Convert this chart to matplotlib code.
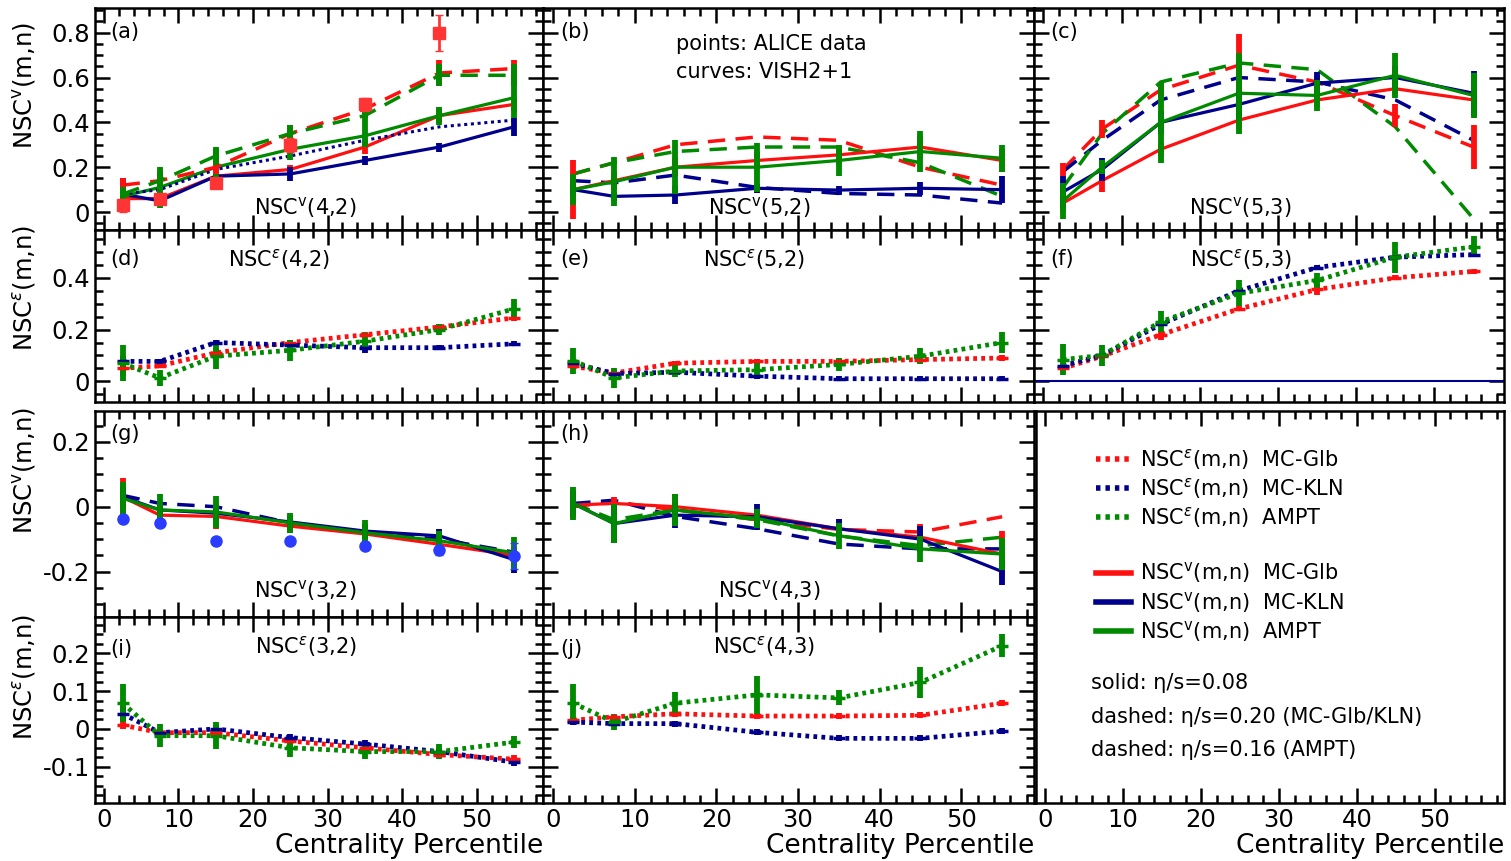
"""NSC(m,n) vs centrality: VISH2+1 curves against ALICE data, 10 panels + legend box."""
import matplotlib
matplotlib.use("Agg")
import matplotlib.pyplot as plt
from matplotlib.lines import Line2D
from matplotlib.ticker import MultipleLocator, FuncFormatter

plt.rcParams["font.family"] = ["DejaVu Sans"]
plt.rcParams["axes.unicode_minus"] = False

W, H = 1511, 861
OUT = "out.png"

CENT = [2.5, 7.5, 15, 25, 35, 45, 55]

# ---- (a) NSC^v(4,2) ----
A_GLB   = [0.06, 0.06, 0.16, 0.19, 0.29, 0.43, 0.48]
A_KLN   = [0.08, 0.05, 0.16, 0.17, 0.23, 0.29, 0.38]
A_AMPT  = [0.07, 0.11, 0.20, 0.28, 0.34, 0.43, 0.51]
A_GLB_D  = [0.12, 0.14, 0.20, 0.35, 0.46, 0.62, 0.64]
A_KLN_D  = [0.08, 0.10, 0.19, 0.25, 0.32, 0.38, 0.41]
A_AMPT_D = [0.08, 0.14, 0.25, 0.35, 0.43, 0.61, 0.61]
A_GLB_E  = [0.05, 0.03, 0.02, 0.02, 0.03, 0.03, 0.03]
A_KLN_E  = [0.07, 0.02, 0.02, 0.03, 0.02, 0.02, 0.04]
A_AMPT_E = [0.04, 0.09, 0.08, 0.05, 0.05, 0.04, 0.09]
A_GLB_DE  = [0.03, 0.03, 0.03, 0.04, 0.04, 0.06, 0.04]
A_AMPT_DE = [0.03, 0.04, 0.04, 0.04, 0.04, 0.05, 0.05]
A_ALICE_X = [2.5, 7.5, 15, 25, 35, 45]
A_ALICE   = [0.03, 0.06, 0.13, 0.30, 0.48, 0.80]
A_ALICE_E = [0.03, 0.02, 0.02, 0.03, 0.03, 0.08]

# ---- (b) NSC^v(5,2) ----
B_GLB   = [0.10, 0.14, 0.20, 0.23, 0.255, 0.29, 0.23]
B_KLN   = [0.10, 0.07, 0.076, 0.106, 0.098, 0.106, 0.10]
B_AMPT  = [0.10, 0.135, 0.20, 0.20, 0.23, 0.27, 0.24]
B_GLB_D  = [0.17, 0.22, 0.30, 0.335, 0.32, 0.20, 0.12]
B_KLN_D  = [0.14, 0.13, 0.165, 0.11, 0.083, 0.076, 0.04]
B_AMPT_D = [0.17, 0.22, 0.27, 0.29, 0.29, 0.22, 0.07]
B_GLB_E  = [0.13, 0.04, 0.04, 0.04, 0.04, 0.05, 0.05]
B_KLN_E  = [0.03, 0.02, 0.04, 0.02, 0.02, 0.03, 0.06]
B_AMPT_E = [0.07, 0.11, 0.12, 0.11, 0.07, 0.09, 0.06]

# ---- (c) NSC^v(5,3) ----
C_GLB   = [0.04, 0.14, 0.28, 0.41, 0.50, 0.55, 0.50]
C_KLN   = [0.09, 0.19, 0.40, 0.48, 0.575, 0.60, 0.53]
C_AMPT  = [0.05, 0.20, 0.40, 0.53, 0.52, 0.61, 0.52]
C_GLB_D  = [0.19, 0.37, 0.545, 0.655, 0.58, 0.43, 0.29]
C_KLN_D  = [0.18, 0.32, 0.50, 0.60, 0.58, 0.50, 0.32]
C_AMPT_D = [0.11, 0.35, 0.58, 0.665, 0.635, 0.38, -0.03]
C_GLB_E  = [0.04, 0.05, 0.03, 0.04, 0.03, 0.03, 0.03]
C_KLN_E  = [0.07, 0.05, 0.05, 0.06, 0.05, 0.05, 0.10]
C_AMPT_E = [0.08, 0.03, 0.18, 0.18, 0.07, 0.10, 0.10]
C_GLB_DE  = [0.03, 0.04, 0.03, 0.14, 0.03, 0.05, 0.10]

# ---- (d) NSC^eps(4,2) ----
D_GLB  = [0.05, 0.06, 0.11, 0.15, 0.18, 0.21, 0.245]
D_KLN  = [0.077, 0.077, 0.15, 0.14, 0.13, 0.13, 0.145]
D_AMPT = [0.07, 0.013, 0.097, 0.12, 0.155, 0.20, 0.28]
D_GLB_E  = [0.03, 0.01, 0.02, 0.01, 0.01, 0.01, 0.01]
D_KLN_E  = [0.02, 0.01, 0.01, 0.01, 0.02, 0.01, 0.01]
D_AMPT_E = [0.07, 0.03, 0.05, 0.04, 0.03, 0.02, 0.04]

# ---- (e) NSC^eps(5,2) ----
E_GLB  = [0.058, 0.032, 0.07, 0.077, 0.077, 0.084, 0.09]
E_KLN  = [0.07, 0.03, 0.035, 0.02, 0.01, 0.01, 0.01]
E_AMPT = [0.08, 0.013, 0.04, 0.045, 0.065, 0.097, 0.15]
E_GLB_E  = [0.01, 0.01, 0.01, 0.01, 0.01, 0.01, 0.01]
E_KLN_E  = [0.01, 0.01, 0.01, 0.01, 0.01, 0.01, 0.01]
E_AMPT_E = [0.05, 0.04, 0.025, 0.025, 0.025, 0.03, 0.04]

# ---- (f) NSC^eps(5,3) ----
F_GLB  = [0.05, 0.097, 0.18, 0.28, 0.355, 0.40, 0.425]
F_KLN  = [0.06, 0.10, 0.22, 0.35, 0.44, 0.48, 0.49]
F_AMPT = [0.084, 0.10, 0.23, 0.34, 0.39, 0.48, 0.52]
F_GLB_E  = [0.01, 0.01, 0.02, 0.01, 0.02, 0.01, 0.01]
F_KLN_E  = [0.01, 0.01, 0.01, 0.01, 0.01, 0.01, 0.01]
F_AMPT_E = [0.06, 0.04, 0.04, 0.05, 0.03, 0.06, 0.04]

# ---- (g) NSC^v(3,2) ----
G_GLB   = [0.03, -0.026, -0.03, -0.06, -0.084, -0.116, -0.15]
G_KLN   = [0.03, -0.01, -0.02, -0.047, -0.075, -0.09, -0.163]
G_AMPT  = [0.026, -0.01, -0.016, -0.05, -0.08, -0.105, -0.142]
G_KLN_D = [0.035, 0.01, 0.0, -0.05, -0.08, -0.10, -0.14]
G_GLB_E  = [0.06, 0.02, 0.04, 0.02, 0.03, 0.03, 0.02]
G_KLN_E  = [0.03, 0.02, 0.02, 0.02, 0.02, 0.02, 0.04]
G_AMPT_E = [0.05, 0.05, 0.05, 0.03, 0.04, 0.03, 0.05]
G_ALICE   = [-0.037, -0.05, -0.105, -0.105, -0.12, -0.135, -0.153]
G_ALICE_E = [0.005, 0.005, 0.005, 0.005, 0.01, 0.015, 0.04]

# ---- (h) NSC^v(4,3) ----
H_GLB   = [0.005, 0.01, 0.0, -0.026, -0.068, -0.094, -0.146]
H_KLN   = [0.01, -0.052, -0.026, -0.031, -0.068, -0.10, -0.20]
H_AMPT  = [0.01, -0.052, -0.01, -0.036, -0.089, -0.13, -0.146]
H_GLB_D  = [0.0, 0.015, -0.01, -0.04, -0.07, -0.078, -0.031]
H_KLN_D  = [0.01, 0.02, -0.03, -0.068, -0.115, -0.13, -0.13]
H_AMPT_D = [0.01, -0.04, -0.01, -0.04, -0.09, -0.12, -0.094]
H_GLB_E  = [0.04, 0.02, 0.04, 0.02, 0.03, 0.04, 0.07]
H_KLN_E  = [0.04, 0.06, 0.04, 0.04, 0.03, 0.04, 0.04]
H_AMPT_E = [0.05, 0.06, 0.05, 0.03, 0.04, 0.04, 0.05]

# ---- (i) NSC^eps(3,2) ----
I_GLB  = [0.01, -0.01, -0.01, -0.032, -0.05, -0.068, -0.08]
I_KLN  = [0.04, -0.01, 0.0, -0.023, -0.04, -0.06, -0.088]
I_AMPT = [0.068, -0.018, -0.018, -0.05, -0.06, -0.06, -0.035]
I_GLB_E  = [0.01, 0.01, 0.01, 0.01, 0.01, 0.01, 0.01]
I_KLN_E  = [0.02, 0.01, 0.01, 0.01, 0.01, 0.01, 0.01]
I_AMPT_E = [0.05, 0.03, 0.035, 0.025, 0.02, 0.02, 0.015]

# ---- (j) NSC^eps(4,3) ----
J_GLB  = [0.023, 0.032, 0.04, 0.034, 0.034, 0.036, 0.068]
J_KLN  = [0.018, 0.014, 0.014, -0.009, -0.025, -0.025, -0.006]
J_AMPT = [0.068, 0.018, 0.068, 0.09, 0.082, 0.123, 0.22]
J_GLB_E  = [0.008, 0.008, 0.008, 0.008, 0.008, 0.008, 0.008]
J_KLN_E  = [0.008, 0.008, 0.008, 0.008, 0.008, 0.008, 0.008]
J_AMPT_E = [0.05, 0.02, 0.03, 0.05, 0.02, 0.04, 0.03]

RED, BLUE, GREEN = "#ff1010", "#00008c", "#008a00"
ALICE_RED, ALICE_BLUE = "#ff3535", "#2a3cff"

STYLE = {
    "solid":  dict(lw=2.3, ls="-"),
    "dashed": dict(lw=2.5, dashes=(5, 3)),
    "fine":   dict(lw=2.2, dashes=(1, 1.2)),
    "eps":    dict(lw=3.4, dashes=(0.8, 0.9)),
}

V = r"NSC$^{\mathrm{v}}$"
EPS = r"NSC$^{\varepsilon}$"

# pixel boxes
COLS = [(95, 543), (543, 1034), (1034, 1504)]
ROWS = [(8, 230), (230, 402), (411, 617), (617, 803)]
YLIM = [(-0.08, 0.91), (-0.08, 0.585), (-0.34, 0.295), (-0.196, 0.296)]
YMAJ = [0.2, 0.2, 0.2, 0.1]
YMIN = [0.05, 0.05, 0.05, 0.025]
XLIM = (-1.2, 58.9)

panels = [
    (0, 0, "(a)", V + "(4,2)", (0.47, 0.10),
     [(A_GLB, A_GLB_E, RED, "solid"), (A_KLN, A_KLN_E, BLUE, "solid"),
      (A_AMPT, A_AMPT_E, GREEN, "solid"), (A_KLN_D, None, BLUE, "fine"),
      (A_GLB_D, A_GLB_DE, RED, "dashed"), (A_AMPT_D, A_AMPT_DE, GREEN, "dashed")],
     (A_ALICE_X, A_ALICE, A_ALICE_E, "s", ALICE_RED)),
    (0, 1, "(b)", V + "(5,2)", (0.44, 0.10),
     [(B_GLB_D, None, RED, "dashed"), (B_KLN_D, None, BLUE, "dashed"),
      (B_AMPT_D, None, GREEN, "dashed"), (B_GLB, B_GLB_E, RED, "solid"),
      (B_KLN, B_KLN_E, BLUE, "solid"), (B_AMPT, B_AMPT_E, GREEN, "solid")], None),
    (0, 2, "(c)", V + "(5,3)", (0.44, 0.10),
     [(C_GLB_D, C_GLB_DE, RED, "dashed"), (C_KLN_D, None, BLUE, "dashed"),
      (C_AMPT_D, None, GREEN, "dashed"), (C_GLB, C_GLB_E, RED, "solid"),
      (C_KLN, C_KLN_E, BLUE, "solid"), (C_AMPT, C_AMPT_E, GREEN, "solid")], None),
    (1, 0, "(d)", EPS + "(4,2)", (0.41, 0.83),
     [(D_GLB, D_GLB_E, RED, "eps"), (D_KLN, D_KLN_E, BLUE, "eps"),
      (D_AMPT, D_AMPT_E, GREEN, "eps")], None),
    (1, 1, "(e)", EPS + "(5,2)", (0.43, 0.83),
     [(E_GLB, E_GLB_E, RED, "eps"), (E_KLN, E_KLN_E, BLUE, "eps"),
      (E_AMPT, E_AMPT_E, GREEN, "eps")], None),
    (1, 2, "(f)", EPS + "(5,3)", (0.44, 0.83),
     [(F_GLB, F_GLB_E, RED, "eps"), (F_KLN, F_KLN_E, BLUE, "eps"),
      (F_AMPT, F_AMPT_E, GREEN, "eps")], None),
    (2, 0, "(g)", V + "(3,2)", (0.47, 0.13),
     [(G_KLN_D, None, BLUE, "dashed"), (G_GLB, G_GLB_E, RED, "solid"),
      (G_KLN, G_KLN_E, BLUE, "solid"), (G_AMPT, G_AMPT_E, GREEN, "solid")],
     (CENT, G_ALICE, G_ALICE_E, "o", ALICE_BLUE)),
    (2, 1, "(h)", V + "(4,3)", (0.46, 0.13),
     [(H_GLB_D, None, RED, "dashed"), (H_KLN_D, None, BLUE, "dashed"),
      (H_AMPT_D, None, GREEN, "dashed"), (H_GLB, H_GLB_E, RED, "solid"),
      (H_KLN, H_KLN_E, BLUE, "solid"), (H_AMPT, H_AMPT_E, GREEN, "solid")], None),
    (3, 0, "(i)", EPS + "(3,2)", (0.47, 0.84),
     [(I_GLB, I_GLB_E, RED, "eps"), (I_KLN, I_KLN_E, BLUE, "eps"),
      (I_AMPT, I_AMPT_E, GREEN, "eps")], None),
    (3, 1, "(j)", EPS + "(4,3)", (0.45, 0.84),
     [(J_GLB, J_GLB_E, RED, "eps"), (J_KLN, J_KLN_E, BLUE, "eps"),
      (J_AMPT, J_AMPT_E, GREEN, "eps")], None),
]

fig = plt.figure(figsize=(W / 100, H / 100), dpi=100)


def px_axes(x0, x1, y0, y1):
    return fig.add_axes([x0 / W, 1 - y1 / H, (x1 - x0) / W, (y1 - y0) / H])


def frame(ax):
    ax.set_xlim(*XLIM)
    ax.xaxis.set_major_locator(MultipleLocator(10))
    ax.xaxis.set_minor_locator(MultipleLocator(2))
    ax.tick_params(which="both", direction="in", top=True, right=True,
                   width=1.8, labelsize=17.5)
    ax.tick_params(which="major", length=11)
    ax.tick_params(which="minor", length=6)
    for s in ax.spines.values():
        s.set_linewidth(1.8)


fmt = FuncFormatter(lambda v, _: "0" if abs(v) < 1e-9 else f"{v:g}")

for row, col, tag, name, npos, series, data in panels:
    ax = px_axes(COLS[col][0], COLS[col][1], ROWS[row][0], ROWS[row][1])
    frame(ax)
    ax.set_ylim(*YLIM[row])
    ax.yaxis.set_major_locator(MultipleLocator(YMAJ[row]))
    ax.yaxis.set_minor_locator(MultipleLocator(YMIN[row]))
    ax.yaxis.set_major_formatter(fmt)
    ax.tick_params(labelleft=(col == 0), labelbottom=(row == 3))
    if row == 3:
        ax.set_xlabel("Centrality Percentile", fontsize=19, loc="right", labelpad=1)

    if tag == "(f)":
        ax.axhline(0, color=BLUE, lw=1.5)

    for vals, errs, c, st in series:
        ax.plot(CENT, vals, color=c, **STYLE[st])
    for vals, errs, c, st in series:
        if errs is None:
            continue
        ax.errorbar(CENT, vals, yerr=errs, fmt="none", ecolor=c, elinewidth=4.2,
                    capsize=0, zorder=3)
        if st == "eps":
            ax.plot(CENT, vals, ls="none", marker="_", ms=8, mew=2.5, color=c, zorder=4)
    if data is not None:
        dx, dy, de, mk, c = data
        ax.errorbar(dx, dy, yerr=de, fmt=mk, color=c, ms=8, mec=c,
                    elinewidth=2, capsize=3, zorder=5)

    ax.text(0.035, 0.89 if row in (0, 2) else 0.83, tag, transform=ax.transAxes,
            fontsize=15, va="center")
    ax.text(npos[0], npos[1], name, transform=ax.transAxes, fontsize=15,
            ha="center", va="center")
    if tag == "(b)":
        ax.text(0.27, 0.84, "points: ALICE data", transform=ax.transAxes, fontsize=15, va="center")
        ax.text(0.27, 0.71, "curves: VISH2+1", transform=ax.transAxes, fontsize=15, va="center")

# legend box
lax = px_axes(1036, 1504, 411, 803)
frame(lax)
lax.set_ylim(0, 1)
lax.tick_params(left=False, right=False, labelleft=False)
lax.set_xlabel("Centrality Percentile", fontsize=19, loc="right", labelpad=1)

model_names = ["MC-Glb", "MC-KLN", "AMPT"]
colors = [RED, BLUE, GREEN]
eps_h = [Line2D([], [], color=c, lw=4, dashes=(0.8, 0.9)) for c in colors]
v_h = [Line2D([], [], color=c, lw=4) for c in colors]
leg_kw = dict(loc="upper left", frameon=False, fontsize=15, handlelength=1.7,
              handletextpad=0.4, labelspacing=0.2, borderaxespad=0)
leg1 = lax.legend(eps_h, [EPS + "(m,n)  " + m for m in model_names],
                  bbox_to_anchor=(0.11, 0.93), **leg_kw)
lax.add_artist(leg1)
lax.legend(v_h, [V + "(m,n)  " + m for m in model_names],
           bbox_to_anchor=(0.11, 0.64), **leg_kw)
for y, s in [(0.305, "solid: η/s=0.08"),
             (0.22, "dashed: η/s=0.20 (MC-Glb/KLN)"),
             (0.135, "dashed: η/s=0.16 (AMPT)")]:
    lax.text(0.117, y, s, transform=lax.transAxes, fontsize=15, va="center")

# row y-labels
for yc, lab in [(85, V + "(m,n)"), (288, EPS + "(m,n)"),
                (470, V + "(m,n)"), (677, EPS + "(m,n)")]:
    fig.text(25 / W, 1 - yc / H, lab, rotation=90, ha="center", va="center",
             fontsize=17.5)

fig.savefig(OUT, dpi=100)
